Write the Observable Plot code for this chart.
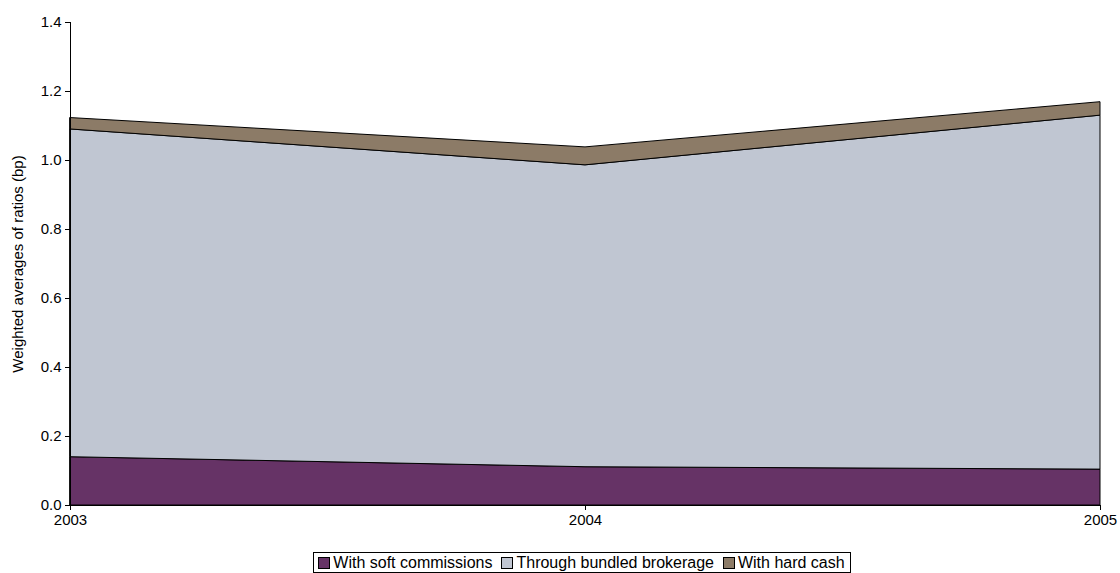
<!DOCTYPE html>
<html>
<head>
<meta charset="utf-8">
<script src="https://cdn.jsdelivr.net/npm/d3@7"></script>
<script src="https://cdn.jsdelivr.net/npm/@observablehq/plot@0.6"></script>
<style>
  html, body { margin: 0; padding: 0; background: #fff; }
  body { width: 1120px; height: 573px; overflow: hidden; font-family: "Liberation Sans", Arial, sans-serif; }
  #legend { display: flex; justify-content: center; margin-top: 4px; padding-left: 44px; }
  .lg { display: inline-flex; align-items: center; border: 1px solid #000; padding: 0px 5px 0px 4px; font-size: 16px; color: #000; line-height: 19px; }
  .it { display: inline-flex; align-items: center; margin-right: 9px; }
  .it:last-child { margin-right: 0; }
  .sw { width: 10px; height: 10px; border: 1px solid #000; margin-right: 3px; display: inline-block; }
</style>
</head>
<body>
<div id="chart"></div>
<div id="legend"></div>
<script>
const years = [2003, 2004, 2005];
const seriesNames = ["With soft commissions", "Through bundled brokerage", "With hard cash"];
const softCommissions = [0.140, 0.111, 0.104];
const bundledBrokerage = [0.950, 0.875, 1.026];
const hardCash = [0.033, 0.052, 0.039];
const seriesColors = ["#663366", "#C0C6D2", "#8C7B67"];
const yTicks = [0, 0.2, 0.4, 0.6, 0.8, 1.0, 1.2, 1.4];

const seriesValues = [softCommissions, bundledBrokerage, hardCash];
const data = [];
seriesNames.forEach((s, i) => {
  years.forEach((yr, j) => data.push({year: yr, series: s, value: seriesValues[i][j]}));
});

const chart = Plot.plot({
  width: 1120,
  height: 548,
  marginLeft: 70,
  marginRight: 20,
  marginTop: 22,
  marginBottom: 43,
  style: {fontFamily: "'Liberation Sans', Arial, sans-serif", fontSize: "15px", color: "#000", background: "#fff"},
  x: {type: "linear", domain: [2003, 2005]},
  y: {domain: [0, 1.4]},
  color: {domain: seriesNames, range: seriesColors},
  marks: [
    Plot.areaY(data, {x: "year", y: "value", z: "series", fill: "series", order: seriesNames, stroke: "#000", strokeWidth: 1}),
    Plot.ruleX([2003], {stroke: "#000", strokeWidth: 1}),
    Plot.ruleY([0], {stroke: "#000", strokeWidth: 1}),
    Plot.axisY({ticks: yTicks, tickFormat: d3.format(".1f"), tickSize: 5, tickPadding: 4, fontSize: 15,
      label: "Weighted averages of ratios (bp)", labelAnchor: "center", labelArrow: "none", labelOffset: 58}),
    Plot.axisX({ticks: years, tickFormat: "d", tickSize: 5, tickPadding: 4, fontSize: 15, label: null})
  ]
});
document.getElementById("chart").appendChild(chart);

const lg = document.createElement("div");
lg.className = "lg";
seriesNames.forEach((s, i) => {
  const it = document.createElement("span");
  it.className = "it";
  const sw = document.createElement("span");
  sw.className = "sw";
  sw.style.background = seriesColors[i];
  it.appendChild(sw);
  it.appendChild(document.createTextNode(s));
  lg.appendChild(it);
});
document.getElementById("legend").appendChild(lg);
</script>
</body>
</html>
